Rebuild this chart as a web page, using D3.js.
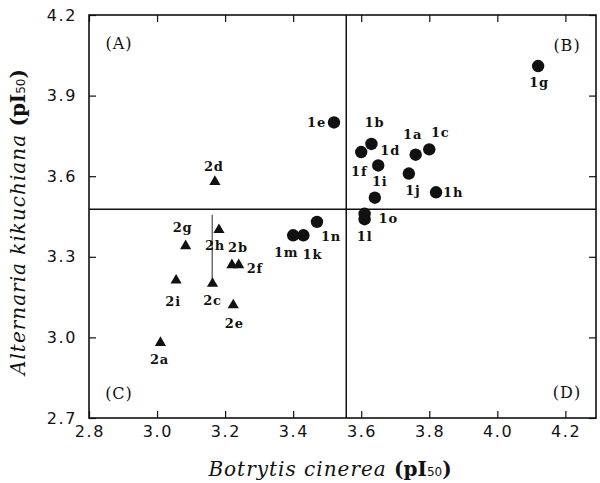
<!DOCTYPE html>
<html lang="en">
<head>
    <meta charset="UTF-8">
    <title>pI50 scatter</title>
    <script src="https://d3js.org/d3.v7.min.js"></script>
    <style>
        body { margin: 0; background: #fff; }
    </style>
</head>
<body>
    <svg id="chart" width="600" height="483"></svg>
    <script>
        // series 1 (circles)
        const circleNames = ['1a', '1b', '1c', '1d', '1e', '1f', '1g', '1h', '1i', '1j', '1k', '1l', '1m', '1n', '1o'];
        const circleX = [3.76, 3.63, 3.80, 3.65, 3.52, 3.60, 4.12, 3.82, 3.64, 3.74, 3.43, 3.61, 3.40, 3.47, 3.61];
        const circleY = [3.68, 3.72, 3.70, 3.64, 3.80, 3.69, 4.01, 3.54, 3.52, 3.61, 3.38, 3.44, 3.38, 3.43, 3.46];

        // series 2 (triangles)
        const triangleNames = ['2a', '2b', '2c', '2d', '2e', '2f', '2g', '2h', '2i'];
        const triangleX = [3.01, 3.22, 3.163, 3.17, 3.224, 3.24, 3.084, 3.182, 3.056];
        const triangleY = [2.984, 3.273, 3.204, 3.583, 3.124, 3.273, 3.344, 3.404, 3.216];

        const xTicks = [2.8, 3.0, 3.2, 3.4, 3.6, 3.8, 4.0, 4.2];
        const yTicks = [2.7, 3.0, 3.3, 3.6, 3.9, 4.2];
        const quadrants = ['(A)', '(B)', '(C)', '(D)'];

        // dividing lines and the thin bar through 2h / 2c
        const splitX = 3.556;
        const splitY = 3.477;
        const barX = 3.162;
        const barY = [3.204, 3.456];

        // label placement around each marker: [dx, dy, anchor]
        const labelPos = {
            '1a': [-3, -20, 'middle'], '1b': [3, -21, 'middle'], '1c': [11, -17, 'middle'],
            '1d': [12, -15, 'middle'], '1e': [-8, 0, 'end'], '1f': [-2, 19, 'middle'],
            '1g': [1, 16, 'middle'], '1h': [7, 0, 'start'], '1i': [5, -16, 'middle'],
            '1j': [4, 17, 'middle'], '1k': [9, 19, 'middle'], '1l': [0, 17, 'middle'],
            '1m': [-7, 17, 'middle'], '1n': [4, 15, 'start'], '1o': [14, 5, 'start'],
            '2a': [-1, 18, 'middle'], '2b': [6, -17, 'middle'], '2c': [0, 18, 'middle'],
            '2d': [-1, -14, 'middle'], '2e': [1, 19, 'middle'], '2f': [8, 4, 'start'],
            '2g': [-3, -17, 'middle'], '2h': [-4, 17, 'middle'], '2i': [-3, 22, 'middle']
        };

        const svg = d3.select('#chart');
        const margin = { top: 15, right: 4, bottom: 65, left: 89 };
        const width = 600, height = 483;
        const ink = '#111';

        const x = d3.scaleLinear().domain([2.8, 4.29]).range([margin.left, width - margin.right]);
        const y = d3.scaleLinear().domain([2.7, 4.2]).range([height - margin.bottom, margin.top]);

        const circles = circleNames.map((n, i) => ({ name: n, x: circleX[i], y: circleY[i] }));
        const triangles = triangleNames.map((n, i) => ({ name: n, x: triangleX[i], y: triangleY[i] }));

        // axes with inward ticks, no labels (labels added separately)
        const tickLen = 7;
        svg.append('g')
            .attr('transform', `translate(0,${y(2.7)})`)
            .call(d3.axisTop(x).tickValues(xTicks).tickSize(tickLen).tickFormat(''));
        svg.append('g')
            .attr('transform', `translate(0,${y(4.2)})`)
            .call(d3.axisBottom(x).tickValues(xTicks).tickSize(tickLen).tickFormat(''));
        svg.append('g')
            .attr('transform', `translate(${x(2.8)},0)`)
            .call(d3.axisRight(y).tickValues(yTicks).tickSize(tickLen).tickFormat(''));
        svg.append('g')
            .attr('transform', `translate(${x(4.29)},0)`)
            .call(d3.axisLeft(y).tickValues(yTicks).tickSize(tickLen).tickFormat(''));
        svg.selectAll('.domain').remove();
        svg.selectAll('.tick line').attr('stroke', ink).attr('stroke-width', 1.2);

        // frame
        svg.append('rect')
            .attr('x', x(2.8)).attr('y', y(4.2))
            .attr('width', x(4.29) - x(2.8)).attr('height', y(2.7) - y(4.2))
            .attr('fill', 'none').attr('stroke', ink).attr('stroke-width', 1.6);

        // tick labels
        svg.selectAll('.xlab')
            .data(xTicks)
            .enter().append('text')
            .attr('x', d => x(d) + 0.8)
            .attr('y', 431)
            .attr('text-anchor', 'middle')
            .attr('dominant-baseline', 'central')
            .attr('font-family', 'DejaVu Sans')
            .attr('font-size', 16)
            .attr('letter-spacing', 1.6)
            .attr('fill', ink)
            .text(d => d.toFixed(1));
        svg.selectAll('.ylab')
            .data(yTicks)
            .enter().append('text')
            .attr('x', 77)
            .attr('y', d => y(d))
            .attr('text-anchor', 'end')
            .attr('dominant-baseline', 'central')
            .attr('font-family', 'DejaVu Sans')
            .attr('font-size', 16)
            .attr('letter-spacing', 1.6)
            .attr('fill', ink)
            .text(d => d.toFixed(1));

        // dividing lines
        svg.append('line')
            .attr('x1', x(splitX)).attr('x2', x(splitX))
            .attr('y1', y(4.2)).attr('y2', y(2.7))
            .attr('stroke', ink).attr('stroke-width', 1.5);
        svg.append('line')
            .attr('x1', x(2.8)).attr('x2', x(4.29))
            .attr('y1', y(splitY)).attr('y2', y(splitY))
            .attr('stroke', ink).attr('stroke-width', 1.5);
        svg.append('line')
            .attr('x1', x(barX)).attr('x2', x(barX))
            .attr('y1', y(barY[0])).attr('y2', y(barY[1]))
            .attr('stroke', ink).attr('stroke-width', 0.9);

        // quadrant letters
        const qPos = [
            [x(2.8) + 30, y(4.2) + 28], [x(4.29) - 29, y(4.2) + 30],
            [x(2.8) + 30, y(2.7) - 25], [x(4.29) - 29, y(2.7) - 26]
        ];
        svg.selectAll('.quad')
            .data(quadrants)
            .enter().append('text')
            .attr('x', (d, i) => qPos[i][0])
            .attr('y', (d, i) => qPos[i][1])
            .attr('text-anchor', 'middle')
            .attr('dominant-baseline', 'central')
            .attr('font-family', 'DejaVu Serif')
            .attr('font-size', 16)
            .attr('letter-spacing', 1)
            .attr('fill', ink)
            .text(d => d);

        // markers
        svg.selectAll('.dot')
            .data(circles)
            .enter().append('circle')
            .attr('cx', d => x(d.x))
            .attr('cy', d => y(d.y))
            .attr('r', 6.2)
            .attr('fill', ink);

        const tri = d3.symbol().type(d3.symbolTriangle).size(54);
        svg.selectAll('.tri')
            .data(triangles)
            .enter().append('path')
            .attr('d', tri)
            .attr('transform', d => `translate(${x(d.x)},${y(d.y) + 1})`)
            .attr('fill', ink);

        // point labels
        svg.selectAll('.plab')
            .data(circles.concat(triangles))
            .enter().append('text')
            .attr('x', d => x(d.x) + labelPos[d.name][0])
            .attr('y', d => y(d.y) + labelPos[d.name][1])
            .attr('text-anchor', d => labelPos[d.name][2])
            .attr('dominant-baseline', 'central')
            .attr('font-family', 'DejaVu Serif')
            .attr('font-weight', 'bold')
            .attr('font-size', 13)
            .attr('letter-spacing', 0.8)
            .attr('fill', ink)
            .text(d => d.name);

        // axis titles
        const xt = svg.append('text')
            .attr('x', 330)
            .attr('y', 476)
            .attr('text-anchor', 'middle')
            .attr('font-family', 'DejaVu Serif')
            .attr('font-size', 20)
            .attr('fill', ink);
        xt.append('tspan').attr('font-style', 'italic').attr('letter-spacing', 1).text('Botrytis cinerea ');
        xt.append('tspan').attr('font-weight', 'bold').text('(pI');
        xt.append('tspan').attr('font-family', 'DejaVu Sans').attr('font-size', 12).text('50');
        xt.append('tspan').attr('font-weight', 'bold').text(')');

        const yt = svg.append('text')
            .attr('transform', 'translate(25,222) rotate(-90)')
            .attr('text-anchor', 'middle')
            .attr('font-family', 'DejaVu Serif')
            .attr('font-size', 20)
            .attr('fill', ink);
        yt.append('tspan').attr('font-style', 'italic').attr('letter-spacing', 1).text('Alternaria kikuchiana ');
        yt.append('tspan').attr('font-weight', 'bold').text('(pI');
        yt.append('tspan').attr('font-family', 'DejaVu Sans').attr('font-size', 12).text('50');
        yt.append('tspan').attr('font-weight', 'bold').text(')');
    </script>
</body>
</html>
